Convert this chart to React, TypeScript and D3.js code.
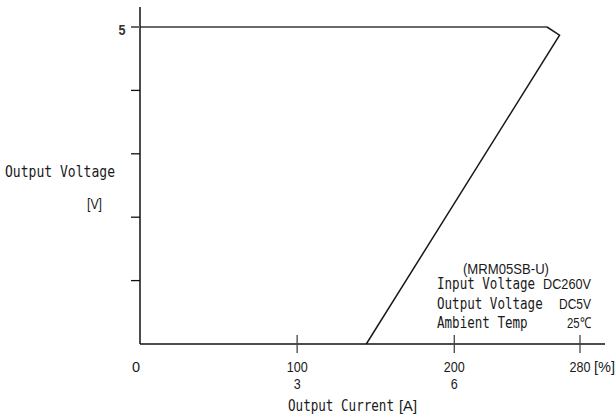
import { useMemo } from 'react';
import * as d3 from 'd3';

// Output current (% of rated) vs output voltage (V) — overcurrent foldback curve.
const currentPct = [0, 259, 267, 144];
const outputVolts = [5, 5, 4.87, 0];

const xTickValues = [100, 200, 280];
const xTickPctLabels = ['100', '200', '280'];
const xTickAmpLabels = ['3', '6', ''];
const yTickValues = [1, 2, 3, 4, 5];
const yTickLabels = ['', '', '', '', '5'];

const noteTitle = '(MRM05SB-U)';
const noteKeys = ['Input Voltage', 'Output Voltage', 'Ambient Temp'];
const noteValues = ['DC260V', 'DC5V', '25℃'];

const W = 616;
const H = 418;
const GOTHIC = '"DejaVu Sans Mono", monospace';
const NARROW = '"Liberation Sans Narrow", "Arial Narrow", "Liberation Sans", sans-serif';

// rough width of a narrow-sans string, used to squeeze the fallback font
const narrowLen = (s: string, per = 7) => s.length * per;

export default function App() {
  const x = useMemo(() => d3.scaleLinear().domain([0, 280]).range([140, 580]), []);
  const y = useMemo(() => d3.scaleLinear().domain([0, 5]).range([344, 27]), []);

  const pts = currentPct.map((c, i) => [c, outputVolts[i]] as [number, number]);
  const line = d3.line<[number, number]>()
    .x((d) => x(d[0]))
    .y((d) => y(d[1]));

  const x0 = x(0);
  const y0 = y(0);

  return (
    <div style={{ position: 'absolute', left: 0, top: 0, width: W, height: H, background: '#fff' }}>
      <svg width={W} height={H} style={{ display: 'block' }}>
        <rect width={W} height={H} fill="#fff" />

        {/* curve: flat part gray, foldback dark */}
        <path d={line(pts.slice(0, 2)) ?? ''} fill="none" stroke="#6a6a6a" strokeWidth={2} />
        <path d={line(pts.slice(1)) ?? ''} fill="none" stroke="#1a1a1a" strokeWidth={1.5} />

        {/* axes */}
        <line x1={x0} x2={x0} y1={7} y2={y0} stroke="#111" strokeWidth={1.5} />
        <line x1={x0} x2={605} y1={y0} y2={y0} stroke="#111" strokeWidth={1.5} />

        {/* y ticks */}
        {yTickValues.map((v, i) => (
          <g key={`y${v}`}>
            <line x1={x0 - 9} x2={x0} y1={y(v)} y2={y(v)} stroke={v === 5 ? '#6a6a6a' : '#111'} strokeWidth={v === 5 ? 2 : 1.3} />
            {yTickLabels[i] && (
              <text x={x0 - 18} y={y(v) + 8} textAnchor="middle" fontFamily={NARROW} fontSize={15} fontWeight="bold" fill="#333"
                textLength={7} lengthAdjust="spacingAndGlyphs">
                {yTickLabels[i]}
              </text>
            )}
          </g>
        ))}

        {/* x ticks */}
        {xTickValues.map((v, i) => (
          <g key={`x${v}`}>
            <line x1={x(v)} x2={x(v)} y1={y0 - 9} y2={y0 + 9} stroke="#444" strokeWidth={1.3} />
            <text x={x(v)} y={372} textAnchor="middle" fontFamily={NARROW} fontSize={14.5} fill="#1a1a1a"
              textLength={narrowLen(xTickPctLabels[i])} lengthAdjust="spacingAndGlyphs">
              {xTickPctLabels[i]}
            </text>
            {xTickAmpLabels[i] && (
              <text x={x(v)} y={389} textAnchor="middle" fontFamily={NARROW} fontSize={14.5} fill="#1a1a1a"
                textLength={narrowLen(xTickAmpLabels[i])} lengthAdjust="spacingAndGlyphs">
                {xTickAmpLabels[i]}
              </text>
            )}
          </g>
        ))}
        <text x={x0 - 4} y={372} textAnchor="middle" fontFamily={NARROW} fontSize={14.5} fill="#1a1a1a">0</text>
        <text x={594} y={372} fontFamily={NARROW} fontSize={14.5} fill="#1a1a1a">[%]</text>

        {/* axis titles */}
        <text x={5} y={177} fontFamily={GOTHIC} fontSize={16} fill="#1a1a1a" textLength={110} lengthAdjust="spacingAndGlyphs">
          Output Voltage
        </text>
        <text x={87} y={209} fontFamily={NARROW} fontSize={15} fill="#1a1a1a" textLength={15} lengthAdjust="spacingAndGlyphs">
          [V]
        </text>
        <text x={288} y={411} fontFamily={GOTHIC} fontSize={16} fill="#1a1a1a" textLength={106} lengthAdjust="spacingAndGlyphs">
          Output Current
        </text>
        <text x={399} y={411} fontFamily={NARROW} fontSize={15} fill="#1a1a1a" textLength={18} lengthAdjust="spacingAndGlyphs">[A]</text>

        {/* conditions note */}
        <text x={463} y={274} fontFamily={NARROW} fontSize={15} fill="#1a1a1a" textLength={86} lengthAdjust="spacingAndGlyphs">
          {noteTitle}
        </text>
        {noteKeys.map((k, i) => (
          <g key={k}>
            <text x={437} y={289 + i * 19.5} fontFamily={GOTHIC} fontSize={16} fill="#1a1a1a"
              textLength={k.length * 7.55} lengthAdjust="spacingAndGlyphs">
              {k}
            </text>
            <text x={591} y={289 + i * 19.5} textAnchor="end" fontFamily={NARROW} fontSize={15} fill="#1a1a1a"
              textLength={narrowLen(noteValues[i], 8)} lengthAdjust="spacingAndGlyphs">
              {noteValues[i]}
            </text>
          </g>
        ))}
      </svg>
    </div>
  );
}
